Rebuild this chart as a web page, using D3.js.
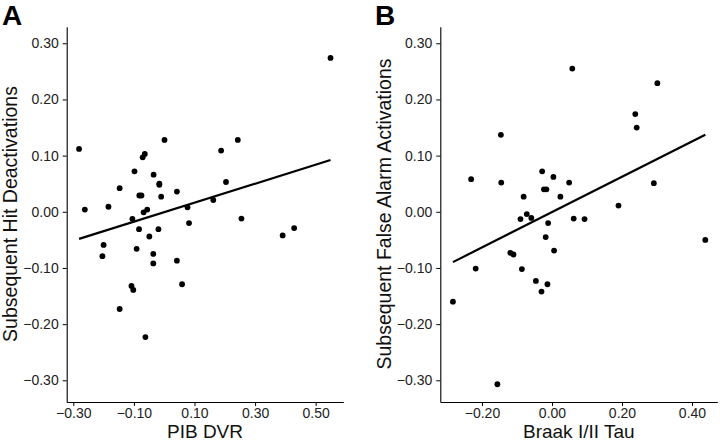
<!DOCTYPE html>
<html>
<head>
<meta charset="utf-8">
<script src="https://cdn.jsdelivr.net/npm/d3@7"></script>
<style>
  body { margin: 0; background: #fff; }
  svg { display: block; font-family: "Liberation Sans", Arial, Helvetica, sans-serif; }
</style>
</head>
<body>
<svg id="chart" width="720" height="441"></svg>
<script>
// panel A: PIB DVR vs subsequent hit deactivations
var pibX = [-0.281, -0.262, -0.184, -0.147, -0.200, -0.204, -0.147, -0.108, -0.102, -0.105,
            -0.098, -0.091, -0.083, -0.082, -0.075, -0.071, -0.064, -0.068, -0.056, -0.049,
            -0.062, -0.036, -0.036, -0.035, -0.019, -0.016, -0.016, -0.010, 0.001, 0.042,
            0.042, 0.059, 0.077, 0.082, 0.162, 0.188, 0.204, 0.243, 0.255, 0.391,
            0.429, 0.549];
var hitY = [0.112, 0.004, 0.009, 0.042, -0.059, -0.079, -0.173, -0.132, -0.139, -0.0125,
            0.072, -0.066, -0.031, 0.029, 0.029, 0.097, 0.103, -0.001, 0.004, -0.044,
            -0.223, -0.075, -0.092, 0.066, -0.031, 0.050, 0.048, 0.027, 0.128, -0.087,
            0.036, -0.129, 0.008, -0.020, 0.021, 0.109, 0.053, 0.128, -0.012, -0.042,
            -0.029, 0.274];

// panel B: Braak I/II tau vs subsequent false alarm activations
var tauX = [-0.283, -0.231, -0.218, -0.146, -0.145, -0.156, -0.119, -0.110, -0.086, -0.090,
            -0.081, -0.072, -0.059, -0.046, -0.030, -0.028, -0.023, -0.016, -0.018, -0.013,
            -0.011, 0.004, 0.006, 0.024, 0.049, 0.058, 0.062, 0.093, 0.190, 0.238,
            0.242, 0.291, 0.301, 0.438];
var faY = [-0.160, 0.058, -0.101, 0.137, 0.052, -0.307, -0.073, -0.076, -0.102, -0.013,
           0.027, -0.004, -0.011, -0.123, -0.142, 0.072, 0.040, 0.040, -0.045, -0.129,
           -0.020, 0.062, -0.069, 0.027, 0.052, 0.255, -0.012, -0.013, 0.011, 0.174,
           0.150, 0.051, 0.229, -0.050];

var yTicks = [-0.30, -0.20, -0.10, 0.00, 0.10, 0.20, 0.30];
var pibTicks = [-0.30, -0.10, 0.10, 0.30, 0.50];
var tauTicks = [-0.20, 0.00, 0.20, 0.40];

var svg = d3.select("#chart");
var fmt = d3.format(".2f");

function fitLine(xs, ys) {
    var mx = d3.mean(xs), my = d3.mean(ys);
    var sxy = d3.sum(xs, function(x, i) { return (x - mx) * (ys[i] - my); });
    var sxx = d3.sum(xs, function(x) { return (x - mx) * (x - mx); });
    var b = sxy / sxx;
    return { b: b, a: my - b * mx };
}

function drawPanel(opts) {
    var x = d3.scaleLinear().domain(opts.xDomain).range([opts.left, opts.right]);
    var y = d3.scaleLinear().domain([-0.3386, 0.3295]).range([402, 26.7]);

    var g = svg.append("g");

    g.append("g")
        .attr("transform", "translate(0," + 402 + ")")
        .call(d3.axisBottom(x).tickValues(opts.xTicks).tickFormat(fmt)
            .tickSize(4).tickSizeOuter(0).tickPadding(2))
        .call(styleAxis);

    g.append("g")
        .attr("transform", "translate(" + opts.left + ",0)")
        .call(d3.axisLeft(y).tickValues(yTicks).tickFormat(fmt)
            .tickSize(4).tickSizeOuter(0).tickPadding(4))
        .call(styleAxis);

    var pts = opts.xs.map(function(v, i) { return [v, opts.ys[i]]; });

    g.append("g")
        .selectAll("circle")
        .data(pts)
        .enter()
        .append("circle")
        .attr("cx", function(d) { return x(d[0]); })
        .attr("cy", function(d) { return y(d[1]); })
        .attr("r", 2.9)
        .attr("fill", "#000");

    // least squares fit, drawn over the data range
    var fit = fitLine(opts.xs, opts.ys);
    var ext = d3.extent(opts.xs);
    g.append("line")
        .attr("x1", x(ext[0]))
        .attr("y1", y(fit.a + fit.b * ext[0]))
        .attr("x2", x(ext[1]))
        .attr("y2", y(fit.a + fit.b * ext[1]))
        .attr("stroke", "#000")
        .attr("stroke-width", 2.2);

    // axis titles
    g.append("text")
        .attr("x", (opts.left + opts.right) / 2)
        .attr("y", 438)
        .attr("text-anchor", "middle")
        .style("font-size", "19px")
        .attr("fill", "#111")
        .text(opts.xTitle);

    g.append("text")
        .attr("transform", "translate(" + opts.yTitleX + "," + 214 + ") rotate(-90)")
        .attr("text-anchor", "middle")
        .style("font-size", "19.5px")
        .attr("fill", "#111")
        .text(opts.yTitle);

    // panel letter
    g.append("text")
        .attr("x", opts.letterX)
        .attr("y", 25)
        .style("font-size", "28px")
        .style("font-weight", "bold")
        .text(opts.letter);
}

function styleAxis(sel) {
    sel.select(".domain").attr("stroke", "#000").attr("stroke-width", 1.1);
    sel.selectAll(".tick line").attr("stroke", "#000").attr("stroke-width", 1);
    sel.selectAll(".tick text")
        .attr("fill", "#222")
        .style("font-size", "14px")
        .style("font-family", "'Liberation Sans', Arial, Helvetica, sans-serif");
}

drawPanel({
    xs: pibX, ys: hitY,
    xDomain: [-0.3218, 0.5912], xTicks: pibTicks,
    left: 66.7, right: 343.3,
    xTitle: "PIB DVR", yTitle: "Subsequent Hit Deactivations",
    yTitleX: 16.5, letter: "A", letterX: 2
});

drawPanel({
    xs: tauX, ys: faY,
    xDomain: [-0.3191, 0.4723], xTicks: tauTicks,
    left: 440.3, right: 717.3,
    xTitle: "Braak I/II Tau", yTitle: "Subsequent False Alarm Activations",
    yTitleX: 391, letter: "B", letterX: 375
});
</script>
</body>
</html>
